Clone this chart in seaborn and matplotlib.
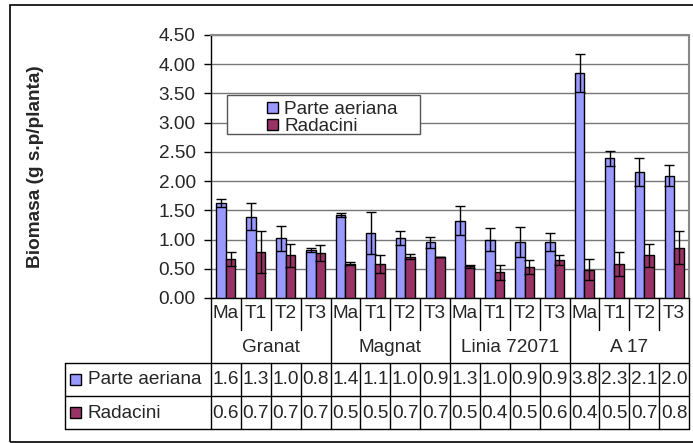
import numpy as np
import pandas as pd
import matplotlib
matplotlib.use("Agg")
import matplotlib.pyplot as plt
import matplotlib.transforms as mtransforms
from matplotlib.patches import Rectangle
import seaborn as sns

# =========================
# 数据
# =========================
groups = ["Granat", "Magnat", "Linia 72071", "A 17"]
treatments = ["Ma", "T1", "T2", "T3"]
series = ["Parte aeriana", "Radacini"]

aeriana = [1.63, 1.39, 1.02, 0.82, 1.42, 1.12, 1.02, 0.95,
           1.32, 1.00, 0.96, 0.96, 3.85, 2.39, 2.15, 2.09]
aeriana_err = [0.07, 0.23, 0.21, 0.04, 0.04, 0.36, 0.12, 0.10,
               0.25, 0.19, 0.26, 0.16, 0.32, 0.13, 0.24, 0.18]
radacini = [0.66, 0.78, 0.73, 0.77, 0.59, 0.58, 0.71, 0.71,
            0.54, 0.44, 0.53, 0.65, 0.48, 0.58, 0.73, 0.86]
radacini_err = [0.12, 0.36, 0.20, 0.14, 0.02, 0.15, 0.04, 0.00,
                0.02, 0.13, 0.12, 0.08, 0.18, 0.20, 0.20, 0.28]

colors = ["#9999FF", "#993366"]
W, H = 693, 443

slots = [f"{g}|{t}" for g in groups for t in treatments]
df = pd.DataFrame({
    "slot": slots * 2,
    "val": aeriana + radacini,
    "err": aeriana_err + radacini_err,
    "series": [series[0]] * 16 + [series[1]] * 16,
})

# =========================
# 绘图
# =========================
sns.set_style("white")
plt.rcParams["font.family"] = ["Liberation Sans", "DejaVu Sans"]
FS = 13.7

fig = plt.figure(figsize=(W / 100, H / 100), dpi=100)
ax = fig.add_axes([211 / W, 1 - 298 / H, 478 / W, 263 / H])

sns.barplot(data=df, x="slot", y="val", hue="series", order=slots,
            hue_order=series, palette=colors, width=0.64, errorbar=None,
            edgecolor="black", linewidth=1, saturation=1, ax=ax, zorder=3,
            legend=False)

# 误差线
for cont, s in zip(ax.containers, series):
    sub = df[df["series"] == s]
    xs = [p.get_x() + p.get_width() / 2 for p in cont.patches]
    ax.errorbar(xs, sub["val"], yerr=sub["err"], fmt="none", ecolor="black",
                elinewidth=1, capsize=3.8, capthick=1, zorder=4)

ax.set_xlim(-0.5, 15.5)
ax.set_ylim(0, 4.5)
ax.set_yticks(np.arange(0, 4.51, 0.5))
ax.set_yticklabels([f"{v:.2f}" for v in np.arange(0, 4.51, 0.5)], fontsize=FS)
ax.set_xticks([])
ax.set_xlabel("")
ax.tick_params(axis="y", direction="out", length=5, width=1, color="black", pad=6, left=True)
ax.yaxis.grid(True, color="#777777", linewidth=1, zorder=0)
ax.set_axisbelow(True)
for side in ["top", "right"]:
    ax.spines[side].set_color("#888888")
    ax.spines[side].set_linewidth(1.5)
for side in ["left", "bottom"]:
    ax.spines[side].set_color("black")
    ax.spines[side].set_linewidth(1)
ax.set_ylabel("Biomasa (g s.p/planta)", fontsize=FS, fontweight="bold")
ax.yaxis.set_label_coords((44 - 211) / 478, 0.5)

# 图例
box = Rectangle(((227 - 211) / 478, (298 - 134) / 263), 193 / 478, 39 / 263,
                transform=ax.transAxes, facecolor="white", edgecolor="#555555",
                linewidth=1, zorder=5)
ax.add_patch(box)
handles = [Rectangle((0, 0), 1, 1, facecolor=c, edgecolor="black", linewidth=1) for c in colors]
leg = ax.legend(handles, series, loc="upper left", frameon=False, fontsize=FS,
                bbox_to_anchor=((255 - 211) / 478, (298 - 89) / 263),
                handlelength=0.55, handleheight=0.55, handletextpad=0.35,
                labelspacing=0.0, borderpad=0.15)
leg.set_zorder(6)

# =========================
# 数据表
# =========================
blend = mtransforms.blended_transform_factory(ax.transData, ax.transAxes)


def ay(py):
    return (298 - py) / 263


def ax_x(px):
    return (px - 211) / 478


line_kw = dict(color="black", linewidth=1, clip_on=False)

# 竖线
for k in range(17):
    xb = k - 0.5
    if k % 4 == 0:
        ax.plot([xb, xb], [0, ay(429)], transform=blend, **line_kw)
    else:
        ax.plot([xb, xb], [0, ay(330)], transform=blend, **line_kw)
        ax.plot([xb, xb], [ay(363), ay(429)], transform=blend, **line_kw)
ax.plot([ax_x(65), ax_x(65)], [ay(363), ay(429)], transform=ax.transAxes, **line_kw)

# 横线
for py in [363, 396, 429]:
    ax.plot([ax_x(65), 1], [ay(py), ay(py)], transform=ax.transAxes, **line_kw)

# 处理标签
for i, s in enumerate(slots):
    ax.text(i, ay(314), s.split("|")[1], transform=blend, ha="center",
            va="center", fontsize=FS)
for gi, g in enumerate(groups):
    ax.text(gi * 4 + 1.5, ay(347), g, transform=blend, ha="center",
            va="center", fontsize=FS)

# 数值 (截断到一位小数)
for row_y, vals in zip([380, 413], [aeriana, radacini]):
    for i, v in enumerate(vals):
        txt = f"{np.floor(v * 10 + 1e-9) / 10:.1f}"
        ax.text(i, ay(row_y), txt, transform=blend, ha="center",
                va="center", fontsize=FS)

# 表格图例
for row_y, c, s in zip([380, 413], colors, series):
    ax.add_patch(Rectangle((ax_x(70), ay(row_y + 5)), 11 / 478, 11 / 263,
                           transform=ax.transAxes, facecolor=c,
                           edgecolor="black", linewidth=1, clip_on=False))
    ax.text(ax_x(88), ay(row_y), s, transform=ax.transAxes, ha="left",
            va="center", fontsize=FS)

# 外框
fig.patches.append(Rectangle((10 / W, 1 - 442 / H), 700 / W, 437 / H,
                             transform=fig.transFigure, fill=False,
                             edgecolor="black", linewidth=1.2))

fig.savefig("out.png", dpi=100)
